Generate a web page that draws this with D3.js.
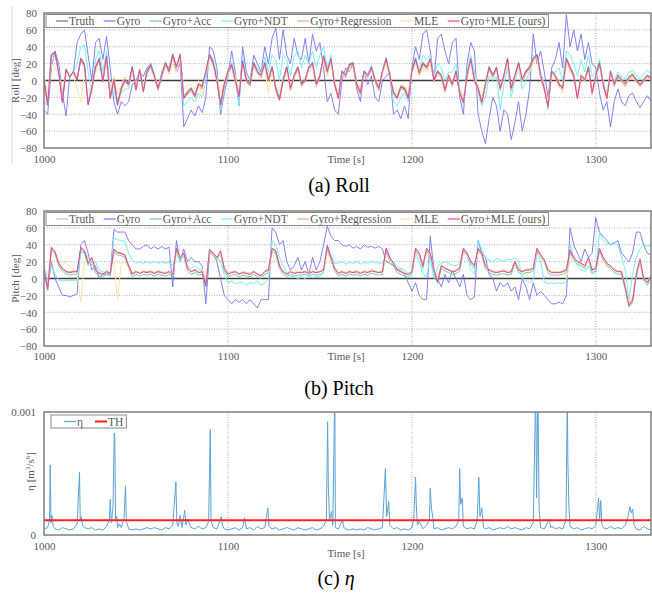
<!DOCTYPE html>
<html>
<head>
<meta charset="utf-8">
<script src="https://cdn.jsdelivr.net/npm/d3@7"></script>
<style>
  body { margin: 0; background: #fff; }
  svg { display: block; }
  svg text { font-family: "Liberation Serif", "Times New Roman", serif !important; }
</style>
</head>
<body>
<svg width="652" height="596"></svg>
<script>
// sample times (2 s step) for roll and pitch series
const times = d3.range(1000, 1331, 2);
const xTicks = [1000, 1100, 1200, 1300];
const degTicks = [-80, -60, -40, -20, 0, 20, 40, 60, 80];
const seriesNames = ["Truth", "Gyro", "Gyro+Acc", "Gyro+NDT", "Gyro+Regression", "MLE", "Gyro+MLE (ours)"];

// ---- Roll [deg]
const rollTruth = [
  0, -30, 30, 33, 10, -25, 12, 5, 10, 0,
  25, 18, -28, -10, 15, 25, 0, 28, -20, 0,
  -28, -10, 0, -5, 15, -10, 12, -12, 10, 18,
  5, -10, 5, 20, 10, 30, 15, 30, -20, -15,
  -10, -18, -5, -8, 10, 30, 20, 0, -28, -5,
  10, 18, 0, -18, 22, 0, -5, 20, 10, 5,
  20, 0, 15, -10, -22, 0, 15, -10, 5, 15,
  -5, 0, 15, 20, -5, 5, 28, 10, 25, -5,
  -20, 10, 5, 18, 20, -5, -15, 10, 5, 15,
  0, -10, 10, 25, 5, -15, -20, -8, -10, -20,
  10, 25, 8, 20, 15, 25, 0, 10, 5, -12,
  5, -5, 10, -15, -25, 5, 25, 0, -10, -25,
  -5, 15, 5, 15, -10, 5, 25, -10, 5, 20,
  0, 10, 15, 25, 30, 5, -10, -30, 10, 5,
  -5, -10, 25, 15, 5, -20, 5, 0, 15, -15,
  5, 20, -5, -20, 10, -5, 5, 0, -5, 3,
  6, 0, -6, 0, 5, 2];
const rollGyro = [
  -35, -40, 15, 35, 20, -15, -42, 5, 10, 45,
  55, 60, 30, 0, 45, 50, 25, 52, 15, -25,
  -40, -25, -30, -25, -5, 0, 10, 5, 15, 20,
  5, -10, 10, 20, 15, 30, 10, 20, -55, -45,
  -35, -42, -30, -38, -20, 40, 35, 15, -40, -15,
  5, 35, 10, -30, 40, 10, 0, 30, 20, 10,
  40, 20, 50, 62, 25, 60, 30, 20, 50, 30,
  25, 50, 20, 55, 35, 45, 15, -25, -15, -35,
  -40, 0, 15, 10, 20, -10, -25, 10, -5, 5,
  -20, -25, 0, 5, 10, -40, -35, -45, -30, -45,
  15, 40, 25, 55, 60, 35, 0, 50, 55, 35,
  20, 45, 50, -20, -40, 20, 45, 35, -40, -60,
  -75, -45, -20, -30, -60, -35, -40, -70, -50, -25,
  -60, -40, -10, 55, 20, 35, 10, -20, 15, 25,
  45, 15, 78, 40, 60, 35, 55, 25, 45, 20,
  15, -15, -35, -25, -55, -25, -10, -25, -30, -18,
  -15, -25, -32, -25, -18, -25];
const rollAcc = [
  2, -28, 31, 30, 12, -22, 14, 3, 11, 2,
  27, 20, -25, -8, 16, 27, 2, 30, -18, 3,
  -25, -8, 2, -3, 17, -8, 13, -10, 12, 20,
  7, -7, 6, 22, 12, 32, 17, 31, -18, -13,
  -8, -16, -3, -6, 12, 31, 22, 2, -26, -3,
  12, 20, 2, -16, 24, 2, -3, 22, 11, 7,
  22, 2, 17, -8, -20, 3, 17, -8, 7, 17,
  -3, 2, 16, 22, -3, 7, 30, 12, 27, -3,
  -18, 12, 7, 20, 21, -3, -13, 12, 7, 17,
  2, -8, 12, 27, 7, -13, -18, -6, -8, -18,
  12, 27, 10, 22, 17, 26, 2, 12, 7, -10,
  7, -3, 12, -13, -23, 7, 27, 2, -8, -23,
  -3, 17, 7, 16, -8, 7, 27, -8, 7, 22,
  2, 12, 17, 27, 31, 7, -8, -28, 12, 7,
  -3, -8, 27, 17, 7, -18, 7, 2, 17, -13,
  7, 22, -3, -18, 12, -3, 7, 2, -3, 5,
  8, 2, -4, 2, 7, 4];
const rollNDT = [
  -25, -30, 20, 30, 12, -22, 10, 5, 10, 20,
  40, 42, 10, -15, 25, 35, 10, 35, -10, -10,
  -30, -15, -10, -10, 10, -5, 12, -8, 12, 20,
  8, -8, 8, 20, 12, 32, 15, 28, -30, -25,
  -20, -25, -15, -20, 0, 32, 25, 5, -35, -10,
  8, 22, 5, -30, 28, 5, 0, 22, 15, 8,
  28, 10, 30, 25, 0, 30, 25, 5, 30, 35,
  15, 30, 20, 35, 15, 30, 40, 15, 30, -5,
  -20, 10, 8, 20, 22, -5, -15, 12, 8, 18,
  0, -12, 10, 28, 8, -25, -30, -20, -15, -25,
  10, 28, 12, 30, 25, 30, 5, 20, 15, 0,
  10, 10, 20, -10, -30, 10, 30, 10, -15, -30,
  -20, 5, 0, 5, -35, -5, 15, -20, 0, 15,
  -10, 0, 10, 30, 25, 10, -5, -35, 10, 10,
  15, 0, 35, 30, 20, 5, 25, 10, 30, 5,
  10, 25, 0, -15, 10, 0, 10, 5, 2, 10,
  12, 6, 2, 8, 12, 8];
const rollReg = [
  -2, -27, 28, 31, 8, -24, 10, 6, 8, 3,
  23, 16, -26, -12, 13, 24, -2, 26, -22, -2,
  -26, -12, -2, -6, 13, -12, 10, -14, 8, 16,
  3, -12, 3, 18, 8, 28, 13, 28, -22, -17,
  -12, -20, -7, -10, 8, 28, 18, -2, -30, -7,
  8, 16, -2, -20, 20, -2, -7, 18, 8, 3,
  18, -2, 13, -12, -24, -2, 13, -12, 3, 13,
  -7, -2, 13, 18, -7, 3, 26, 8, 23, -7,
  -22, 8, 3, 16, 18, -7, -17, 8, 3, 13,
  -2, -12, 8, 23, 3, -17, -22, -10, -12, -22,
  8, 23, 6, 18, 13, 23, -2, 8, 3, -14,
  3, -7, 8, -17, -27, 3, 23, -2, -12, -27,
  -7, 13, 3, 13, -12, 3, 23, -12, 3, 18,
  -2, 8, 13, 23, 28, 3, -12, -32, 8, 3,
  -7, -12, 23, 13, 3, -22, 3, -2, 13, -17,
  3, 18, -7, -22, 8, -7, 3, -2, -7, 1,
  4, -2, -7, -2, 3, 0];
const rollMLE = [
  5, -15, 20, 15, 5, -10, 8, 10, 5, -10,
  -25, 10, -15, -5, 10, 15, 5, 20, -10, 5,
  -15, -5, 5, 0, 10, -5, 8, -8, 5, 10,
  5, -5, 5, 15, 8, 20, 10, 25, -10, -5,
  -5, -10, 0, -20, 15, 20, 15, 5, -15, 0,
  8, 12, 5, -10, 15, 5, 0, 15, 8, 5,
  15, -15, 10, -5, -15, 5, 10, -5, 5, 10,
  0, 5, 10, 15, 0, 5, 20, 5, 20, 0,
  -15, 8, 5, 12, 15, 0, -10, 8, 5, 10,
  5, -5, 8, 20, 5, -10, -15, -5, -5, -15,
  8, 20, 5, 15, 10, 20, 5, 8, 5, -8,
  5, 0, 8, -10, -20, 5, 20, 5, -5, -20,
  -5, 10, 5, 10, -5, 5, 20, -5, 5, 15,
  0, 8, 10, 20, 25, 5, -5, -25, 8, 5,
  0, -15, 20, 10, 5, -15, 5, 0, 10, -10,
  5, 15, 0, -15, 8, -3, 5, 0, -5, 3,
  5, -3, -5, 0, 4, 1];
const rollOurs = [
  1, -29, 31, 34, 9, -26, 13, 4, 11, 1,
  26, 19, -29, -9, 16, 26, -1, 29, -21, 1,
  -29, -9, 1, -4, 16, -11, 13, -13, 11, 19,
  6, -9, 6, 21, 11, 31, 16, 31, -21, -14,
  -9, -19, -4, -7, 11, 31, 21, 1, -29, -4,
  11, 19, 1, -19, 23, 1, -4, 21, 11, 6,
  21, 1, 16, -9, -23, 1, 16, -9, 6, 16,
  -4, 1, 16, 21, -4, 6, 29, 11, 26, -4,
  -21, 11, 6, 19, 21, -4, -14, 11, 6, 16,
  1, -9, 11, 26, 6, -14, -21, -7, -9, -21,
  11, 26, 9, 21, 16, 26, 1, 11, 6, -11,
  6, -4, 11, -14, -26, 6, 26, 1, -9, -26,
  -4, 16, 6, 16, -9, 6, 26, -9, 6, 21,
  1, 11, 16, 26, 31, 6, -9, -31, 11, 6,
  -4, -9, 26, 16, 6, -21, 6, 1, 16, -14,
  6, 21, -4, -21, 11, -4, 6, 1, -4, 4,
  7, 1, -5, 1, 6, 3];

// ---- Pitch [deg]
const pitchTruth = [
  10, -12, 36, 32, 18, 12, 8, 7, 8, 8,
  36, 33, 18, 24, 10, 6, 5, 8, 6, 34,
  31, 30, 28, 15, 5, 8, 6, 8, 7, 8,
  6, 8, 7, 6, 8, 5, 35, 25, 30, 12,
  8, 10, 7, 8, -8, 33, 30, 25, 32, 12,
  5, 7, 8, 5, 7, 6, 5, 8, 5, 3,
  8, 10, 35, 33, 15, 8, 5, 8, 6, 7,
  7, 8, 6, 8, 7, 8, 10, 38, 25, 12,
  6, 8, 6, 8, 7, 8, 6, 8, 7, 9,
  8, 7, 8, 35, 25, 18, 10, 8, 6, 5,
  8, 35, 30, 15, 35, 30, 10, -3, 15, 12,
  10, 8, 9, 12, 35, 30, 20, 15, 35, 30,
  15, 10, 8, 7, 8, 9, 7, 8, 20, 10,
  8, 10, 10, 12, 35, 28, 22, 10, 7, 7,
  7, 8, 10, 33, 25, 20, 18, 15, 25, 10,
  12, 35, 25, 18, 15, 10, 8, 8, -10, -30,
  -25, 5, 22, 0, -5, 3];
const pitchGyro = [
  15, -10, 20, 0, -10, -20, -20, -22, -20, -18,
  40, 45, 30, 10, 15, 0, 5, 5, 5, 58,
  55, 55, 55, 45, 40, 35, 35, 38, 40, 35,
  38, 35, 38, 35, 37, -10, 45, 20, 35, 20,
  25, 20, 20, 15, -30, 30, 30, 20, 0, -20,
  -25, -30, -25, -28, -25, -30, -25, -30, -35, -25,
  -25, -25, 60, 55, 40, 45, 20, 10, 15, 25,
  10, 20, 5, 25, 10, 20, 40, 62, 50, 45,
  45, 40, 38, 40, 36, 38, 35, 40, 37, 38,
  36, 38, 35, 20, 18, 15, 12, 10, 5, -5,
  -15, -5, -20, -25, -25, 50, 10, 0, -10, 5,
  -5, 10, 0, -10, 5, -20, -25, -22, 45, 30,
  25, 5, 0, -15, -5, -10, -5, -15, -10, -25,
  0, -10, -25, -5, -20, -15, -20, -25, -30, -30,
  -28, -30, -20, 60, 40, 30, 20, 35, 25, 30,
  72, 55, 50, 45, 40, 42, 45, 30, 25, 20,
  30, 55, 55, 40, 30, 28];
const pitchAcc = [
  8, -14, 33, 29, 15, 9, 5, 4, 5, 5,
  33, 30, 15, 21, 7, 3, 2, 5, 3, 31,
  28, 27, 25, 12, 2, 5, 3, 5, 4, 5,
  3, 5, 4, 3, 5, 2, 32, 22, 27, 9,
  5, 7, 4, 5, -10, 30, 27, 22, 29, 9,
  2, 4, 5, 2, 4, 3, 2, 5, 2, 0,
  5, 7, 32, 30, 12, 5, 2, 5, 3, 4,
  4, 5, 3, 5, 4, 5, 7, 35, 22, 9,
  3, 5, 3, 5, 4, 5, 3, 5, 4, 6,
  5, 4, 5, 32, 22, 15, 7, 5, 3, 2,
  5, 32, 27, 12, 32, 27, 7, -6, 12, 9,
  7, 5, 6, 9, 32, 27, 17, 12, 32, 27,
  12, 7, 5, 4, 5, 6, 4, 5, 17, 7,
  5, 7, 7, 9, 32, 25, 19, 7, 4, 4,
  4, 5, 7, 30, 22, 17, 15, 12, 22, 7,
  9, 32, 22, 15, 12, 7, 5, 5, -13, -34,
  -28, 2, 19, -3, -8, 0];
const pitchNDT = [
  12, -2, 15, 5, -2, -3, -2, -3, -2, -3,
  30, 32, 25, 15, 20, 10, 8, 6, 5, 48,
  46, 45, 44, 30, 22, 18, 20, 18, 20, 18,
  20, 18, 20, 18, 20, 15, 30, 20, 28, 15,
  12, 15, 10, 12, -5, 35, 30, 25, 20, 5,
  -5, -3, -6, -5, -4, -8, -5, -6, -3, -8,
  -5, 0, 45, 40, 25, 15, 8, 3, 2, 0,
  2, 0, 3, 1, 3, 2, 8, 40, 28, 18,
  18, 20, 17, 19, 18, 20, 17, 19, 18, 20,
  19, 18, 18, 30, 22, 20, 15, 12, 10, 5,
  5, 30, 20, 5, 2, 25, 0, 15, 18, 20,
  18, 16, 15, 18, 35, 28, 10, 5, 45, 35,
  25, 22, 20, 24, 22, 20, 23, 22, 25, 20,
  0, -3, -5, -2, 30, 20, -4, -6, -5, -6,
  -5, -6, -4, 40, 25, 15, 10, 8, 15, 5,
  8, 55, 45, 42, 40, 43, 40, 25, 10, -25,
  5, 25, 35, 40, 38, 40];
const pitchReg = [
  11, -10, 35, 31, 17, 11, 9, 8, 9, 9,
  35, 32, 19, 23, 11, 7, 6, 9, 7, 33,
  30, 29, 27, 16, 6, 9, 7, 9, 8, 9,
  7, 9, 8, 7, 9, 6, 34, 26, 29, 13,
  9, 11, 8, 9, -6, 32, 29, 24, 31, 13,
  6, 8, 9, 6, 8, 7, 6, 9, 6, 4,
  9, 11, 34, 32, 16, 9, 6, 9, 7, 8,
  8, 9, 7, 9, 8, 9, 11, 37, 24, 13,
  7, 9, 7, 9, 8, 9, 7, 9, 8, 10,
  9, 8, 9, 34, 24, 17, 11, 9, 7, 6,
  9, 34, 29, 16, 34, 29, 11, -2, 16, 13,
  11, 9, 10, 13, 34, 29, 21, 16, 34, 29,
  16, 11, 9, 8, 9, 10, 8, 9, 21, 11,
  9, 11, 11, 13, 34, 27, 21, 11, 8, 8,
  8, 9, 11, 32, 24, 19, 17, 14, 24, 11,
  13, 34, 24, 17, 14, 11, 9, 9, -9, -29,
  -24, 6, 21, 1, -4, 4];
const pitchMLE = [
  12, 5, 22, 20, 18, 20, 18, 15, 10, 8,
  -28, 20, 18, 22, 10, 8, 6, 10, 8, 20,
  -25, 18, 20, 12, 5, 8, 7, 9, 7, 8,
  7, 8, 8, 6, 9, 6, 30, 25, 28, 12,
  9, 10, 8, 9, 0, 30, 28, 24, 30, 12,
  6, 7, 8, 6, 8, 7, 6, 8, 6, 4,
  8, 10, 20, 22, 18, 9, 6, 9, 7, 8,
  8, 9, 7, 8, 8, 9, 10, 30, 22, 12,
  7, 9, 7, 9, 8, 9, 7, 9, 8, 10,
  9, 8, 9, 25, 22, 17, 11, 9, 7, 6,
  9, 30, 28, 16, 30, 28, 11, 0, 16, 13,
  11, 9, 10, 13, 30, 28, 20, 15, 30, 28,
  16, 11, 9, 8, 9, 10, 8, 9, 18, 11,
  9, 11, 11, 13, 30, 26, 20, 11, 8, 8,
  8, 9, 0, 20, 24, 19, 17, 14, 22, 11,
  13, 20, 22, 17, 14, 11, 9, 9, -8, -28,
  -22, 5, 20, 0, -4, 4];
const pitchOurs = [
  10, -13, 37, 32, 18, 12, 8, 7, 8, 8,
  37, 33, 18, 25, 10, 6, 5, 8, 6, 35,
  31, 30, 28, 15, 5, 8, 6, 8, 7, 8,
  6, 8, 7, 6, 8, 5, 36, 25, 30, 12,
  8, 10, 7, 8, -9, 34, 30, 25, 33, 12,
  5, 7, 8, 5, 7, 6, 5, 8, 5, 3,
  8, 10, 36, 33, 15, 8, 5, 8, 6, 7,
  7, 8, 6, 8, 7, 8, 10, 39, 25, 12,
  6, 8, 6, 8, 7, 8, 6, 8, 7, 9,
  8, 7, 8, 36, 25, 18, 10, 8, 6, 5,
  8, 36, 30, 15, 36, 30, 10, -4, 15, 12,
  10, 8, 9, 12, 36, 30, 20, 15, 36, 30,
  15, 10, 8, 7, 8, 9, 7, 8, 20, 10,
  8, 10, 10, 12, 36, 28, 22, 10, 7, 7,
  7, 8, 10, 34, 25, 20, 18, 15, 25, 10,
  12, 36, 25, 18, 15, 10, 8, 8, -11, -32,
  -26, 5, 23, 0, -5, 3];

// ---- eta [m^3/s^6]: [time, value]
const eta = [
  [1000,5e-5],[1002,6e-5],[1003,1.2e-4],[1003.4,5.7e-4],[1003.8,1.0e-4],[1004.3,1.6e-4],[1005,7e-5],[1006,5e-5],
  [1008,4e-5],[1010,6e-5],[1012,5e-5],[1014,4e-5],[1016,5e-5],[1018,9e-5],[1019.3,5.1e-4],[1019.7,1.2e-4],
  [1020.2,1.5e-4],[1021,8e-5],[1022,6e-5],[1024,5e-5],[1026,6e-5],[1028,4e-5],[1030,5e-5],[1032,4e-5],
  [1034,7e-5],[1035.5,1.2e-4],[1036,2.9e-4],[1036.6,1e-4],[1037.5,2.2e-4],[1038.2,8.3e-4],[1038.5,7.8e-4],
  [1038.9,1.2e-4],[1039.5,1.5e-4],[1040,6e-5],[1041,9e-5],[1042,6e-5],[1043.5,1.3e-4],[1044.3,4e-4],
  [1044.8,1.1e-4],[1046,5e-5],[1048,4e-5],[1050,5e-5],[1052,4e-5],[1054,5e-5],[1056,6e-5],[1058,5e-5],
  [1060,6e-5],[1062,5e-5],[1064,4e-5],[1066,6e-5],[1068,5e-5],[1070,8e-5],[1071.7,4.3e-4],[1072.2,1e-4],
  [1073,7e-5],[1074,1.6e-4],[1075,6e-5],[1076.5,2e-4],[1077.2,8e-5],[1078,1.3e-4],[1080,6e-5],[1082,5e-5],
  [1084,7e-5],[1086,5e-5],[1088,6e-5],[1089.5,1.1e-4],[1090.4,8.6e-4],[1090.8,1.2e-4],[1092,6e-5],
  [1094,5e-5],[1096.4,1.5e-4],[1097,8e-5],[1098,5e-5],[1100,4e-5],[1102,5e-5],[1104,6e-5],[1106,4e-5],
  [1108,6e-5],[1109,1.4e-4],[1110,5e-5],[1112,6e-5],[1114,4e-5],[1116,7e-5],[1118,5e-5],[1120,6e-5],
  [1121.7,2.2e-4],[1122.3,7e-5],[1124,5e-5],[1126,6e-5],[1128,4e-5],[1130,5e-5],[1132,6e-5],[1134,5e-5],
  [1136,4e-5],[1138,6e-5],[1140,5e-5],[1142,4e-5],[1144,5e-5],[1146,6e-5],[1148,4e-5],[1150,5e-5],
  [1152,7e-5],[1153.5,1.3e-4],[1154.2,9.2e-4],[1154.6,4e-4],[1155.2,1.2e-4],[1156.3,1.9e-4],[1157,8e-5],
  [1158.1,1.2e-3],[1158.4,6e-5],[1160,5e-5],[1162.3,1.2e-4],[1163,6e-5],[1164,5e-5],[1166,4e-5],
  [1168,5e-5],[1170,4e-5],[1172,5e-5],[1174,4e-5],[1176,6e-5],[1178,5e-5],[1180,4e-5],[1182,5e-5],
  [1184,6e-5],[1185.6,5.4e-4],[1186.3,1.5e-4],[1187.4,2.7e-4],[1188,8e-5],[1190,5e-5],[1192,6e-5],
  [1194,4e-5],[1196,5e-5],[1198,4e-5],[1200,6e-5],[1201,1.3e-4],[1202,4.7e-4],[1202.4,2.5e-4],[1203,8e-5],
  [1204,1.1e-4],[1206,5e-5],[1208,8e-5],[1209.5,1.2e-4],[1210,3.8e-4],[1210.6,2.2e-4],[1211.5,1.3e-4],
  [1212,5e-5],[1214,6e-5],[1216,4e-5],[1218,5e-5],[1220,6e-5],[1222,5e-5],[1224,7e-5],[1225.5,1.2e-4],
  [1226,5.4e-4],[1226.5,2.5e-4],[1227.4,3e-4],[1228,7e-5],[1230,5e-5],[1232,6e-5],[1234,5e-5],
  [1235.5,1.2e-4],[1236.4,4.7e-4],[1237,1.5e-4],[1238,2.2e-4],[1239,6e-5],[1240,5e-5],[1242,6e-5],
  [1244,4e-5],[1246,5e-5],[1248,6e-5],[1250,5e-5],[1252,7e-5],[1254,5e-5],[1256,6e-5],[1258,5e-5],
  [1260,4e-5],[1262,6e-5],[1264,5e-5],[1266,1e-4],[1267.3,1.2e-3],[1267.8,3e-4],[1268.5,1.2e-3],
  [1269.2,2e-4],[1270,6e-5],[1272,5e-5],[1274.7,1.3e-4],[1275.5,6e-5],[1276,7e-5],[1278,5e-5],[1280,6e-5],
  [1282,5e-5],[1283.8,1.2e-4],[1284.5,1.2e-3],[1284.8,6e-4],[1285.4,2.2e-4],[1286,7e-5],[1288,5e-5],
  [1290,6e-5],[1292,4e-5],[1294,5e-5],[1296,6e-5],[1298,5e-5],[1300,8e-5],[1301.5,3e-4],[1302.1,1.3e-4],
  [1302.7,2.8e-4],[1303.3,9e-5],[1304,6e-5],[1306,5e-5],[1308,7e-5],[1310,5e-5],[1312,6e-5],[1314,5e-5],
  [1316,8e-5],[1317.5,1.5e-4],[1318.5,2.3e-4],[1319.2,1.8e-4],[1320,2.1e-4],[1320.8,8e-5],[1322,5e-5],
  [1324,4e-5],[1326,7e-5],[1328,5e-5],[1330,4e-5]];
const etaTH = 0.00012;
const etaTicks = [0, 0.001];

const svg = d3.select("svg");
const left = 44, right = 651;
const x = d3.scaleLinear().domain([1000, 1330]).range([left, right]);
const grey = "#595959";
const serif = "Liberation Serif, Times New Roman, serif";

const colors = ["#7a7a7a", "#7474f4", "#74d292", "#74f0f0", "#f2a888", "#ffe3a6", "#e246a6"];

// faint vertical rule at the very left of the top panel
svg.append("line").attr("x1", 12).attr("x2", 12).attr("y1", 6).attr("y2", 164)
  .attr("stroke", "#d8d8d8").attr("stroke-width", 1);

function frame(g, top, bottom, id) {
  g.append("clipPath").attr("id", id).append("rect")
    .attr("x", left).attr("y", top).attr("width", right - left).attr("height", bottom - top);
}

function xAxisAndGrid(g, top, bottom, tickY, timeY) {
  g.selectAll(".vgrid").data(xTicks.slice(1)).join("line")
    .attr("x1", d => x(d)).attr("x2", d => x(d)).attr("y1", top).attr("y2", bottom)
    .attr("stroke", "#9a9a9a").attr("stroke-width", 0.8).attr("stroke-dasharray", "1,1.5");
  const ax = g.append("g").attr("transform", `translate(0,${tickY - 8})`)
    .call(d3.axisBottom(x).tickValues(xTicks).tickSize(0).tickPadding(0).tickFormat(d3.format("d")));
  ax.attr("font-family", serif);
  ax.select(".domain").remove();
  ax.selectAll("text").attr("fill", grey).attr("font-size", 11).attr("dy", 0).attr("y", 8);
  g.append("text").attr("x", 346).attr("y", timeY).attr("text-anchor", "middle")
    .attr("font-family", serif).attr("font-size", 11).attr("fill", grey).text("Time [s]");
}

function legend(g, top, names, cols, widths, startX, boxX, gap) {
  const lg = g.append("g");
  const box = lg.append("rect").attr("x", boxX).attr("y", top).attr("height", 13)
    .attr("fill", "#fff").attr("stroke", "#8a8a8a").attr("stroke-width", 1);
  let cx = startX;
  names.forEach((n, i) => {
    lg.append("line").attr("x1", cx).attr("x2", cx + 12).attr("y1", top + 6.5).attr("y2", top + 6.5)
      .attr("stroke", cols[i]).attr("stroke-width", widths[i]);
    const t = lg.append("text").attr("x", cx + 13).attr("y", top + 10.5)
      .attr("font-family", serif).attr("font-size", 11.5).attr("fill", grey).text(n);
    cx = cx + 13 + t.node().getComputedTextLength() + gap;
  });
  box.attr("width", cx - gap + 3 - boxX);
}

function degPanel(cfg) {
  const g = svg.append("g");
  const y = d3.scaleLinear().domain([-80, 80]).range([cfg.bottom, cfg.top]);
  const cid = "clip" + cfg.id;
  frame(g, cfg.top, cfg.bottom, cid);

  g.selectAll(".hgrid").data(degTicks.filter(d => d !== 0 && d !== 80 && d !== -80)).join("line")
    .attr("x1", left).attr("x2", right).attr("y1", d => y(d)).attr("y2", d => y(d))
    .attr("stroke", "#9a9a9a").attr("stroke-width", 0.8).attr("stroke-dasharray", "1,1.5");
  xAxisAndGrid(g, cfg.top, cfg.bottom, cfg.tickY, cfg.tickY);

  const ay = g.append("g").attr("transform", `translate(${left - 7},0)`)
    .call(d3.axisLeft(y).tickValues(degTicks).tickSize(0).tickPadding(0));
  ay.attr("font-family", serif);
  ay.select(".domain").remove();
  ay.selectAll("text").attr("fill", grey).attr("font-size", 11).attr("dy", "0.35em");

  g.append("text").attr("transform", `translate(19,${(cfg.top + cfg.bottom) / 2}) rotate(-90)`)
    .attr("text-anchor", "middle").attr("font-family", serif).attr("font-size", 11)
    .attr("fill", grey).text(cfg.label);

  g.append("line").attr("x1", left).attr("x2", right).attr("y1", y(0)).attr("y2", y(0))
    .attr("stroke", "#3c3c3c").attr("stroke-width", 1.4);

  const line = d3.line().x((d, i) => x(times[i])).y(d => y(d));
  const lines = g.append("g").attr("clip-path", `url(#${cid})`);
  const cols = colors.slice();
  cols[0] = cfg.truthColor;
  cfg.series.forEach((s, i) => {
    lines.append("path").datum(s).attr("d", line).attr("fill", "none")
      .attr("stroke", cols[i]).attr("stroke-width", i === 1 ? 0.9 : 1)
      .attr("stroke-linejoin", "round");
  });

  g.append("rect").attr("x", left).attr("y", cfg.top).attr("width", right - left)
    .attr("height", cfg.bottom - cfg.top).attr("fill", "none")
    .attr("stroke", "#7f7f7f").attr("stroke-width", 1.5);

  legend(g, cfg.top + 1.5, seriesNames, cols, seriesNames.map(() => 1.2), 56, 46, 9.5);

  g.append("text").attr("x", 339).attr("y", cfg.captionY).attr("text-anchor", "middle")
    .attr("font-family", serif).attr("font-size", 20).attr("fill", "#000").text(cfg.caption);
}

degPanel({ id: "a", top: 13, bottom: 148, tickY: 163, captionY: 192, label: "Roll [deg]",
  caption: "(a) Roll", truthColor: "#7a7a7a",
  series: [rollTruth, rollGyro, rollAcc, rollNDT, rollReg, rollMLE, rollOurs] });
degPanel({ id: "b", top: 211, bottom: 346, tickY: 360, captionY: 395, label: "Pitch [deg]",
  caption: "(b) Pitch", truthColor: "#c4c4c4",
  series: [pitchTruth, pitchGyro, pitchAcc, pitchNDT, pitchReg, pitchMLE, pitchOurs] });

// ---- eta panel
(function () {
  const top = 412, bottom = 535;
  const g = svg.append("g");
  const y = d3.scaleLinear().domain([0, 0.001]).range([bottom, top]);
  frame(g, top, bottom, "clipc");
  xAxisAndGrid(g, top, bottom, 550, 557);

  const ay = g.append("g").attr("transform", `translate(${left - 8},0)`)
    .call(d3.axisLeft(y).tickValues(etaTicks).tickSize(0).tickPadding(0).tickFormat(d => d === 0 ? "0" : "0.001"));
  ay.attr("font-family", serif);
  ay.select(".domain").remove();
  ay.selectAll("text").attr("fill", grey).attr("font-size", 11).attr("dy", "0.35em");

  g.append("text").attr("transform", `translate(34,${(top + bottom) / 2 - 2}) rotate(-90)`)
    .attr("text-anchor", "middle").attr("font-family", serif).attr("font-size", 11).attr("fill", grey)
    .html('η [m<tspan dy="-4" font-size="7">3</tspan><tspan dy="4">/s</tspan><tspan dy="-4" font-size="7">6</tspan><tspan dy="4">]</tspan>');

  const lines = g.append("g").attr("clip-path", "url(#clipc)");
  lines.append("path").datum(eta)
    .attr("d", d3.line().x(d => x(d[0])).y(d => y(d[1])))
    .attr("fill", "none").attr("stroke", "#5aa2d8").attr("stroke-width", 1);
  lines.append("line").attr("x1", left).attr("x2", right).attr("y1", y(etaTH)).attr("y2", y(etaTH))
    .attr("stroke", "#ff2020").attr("stroke-width", 2);

  g.append("rect").attr("x", left).attr("y", top).attr("width", right - left)
    .attr("height", bottom - top).attr("fill", "none")
    .attr("stroke", "#7f7f7f").attr("stroke-width", 1.5);

  legend(g, top + 3, ["η", "TH"], ["#5aa2d8", "#ff2020"], [1.2, 2], 64, 51, 12);

  g.append("text").attr("x", 336).attr("y", 585).attr("text-anchor", "middle")
    .attr("font-family", serif).attr("font-size", 20).attr("fill", "#000")
    .html('(c) <tspan font-style="italic">η</tspan>');
})();
</script>
</body>
</html>
